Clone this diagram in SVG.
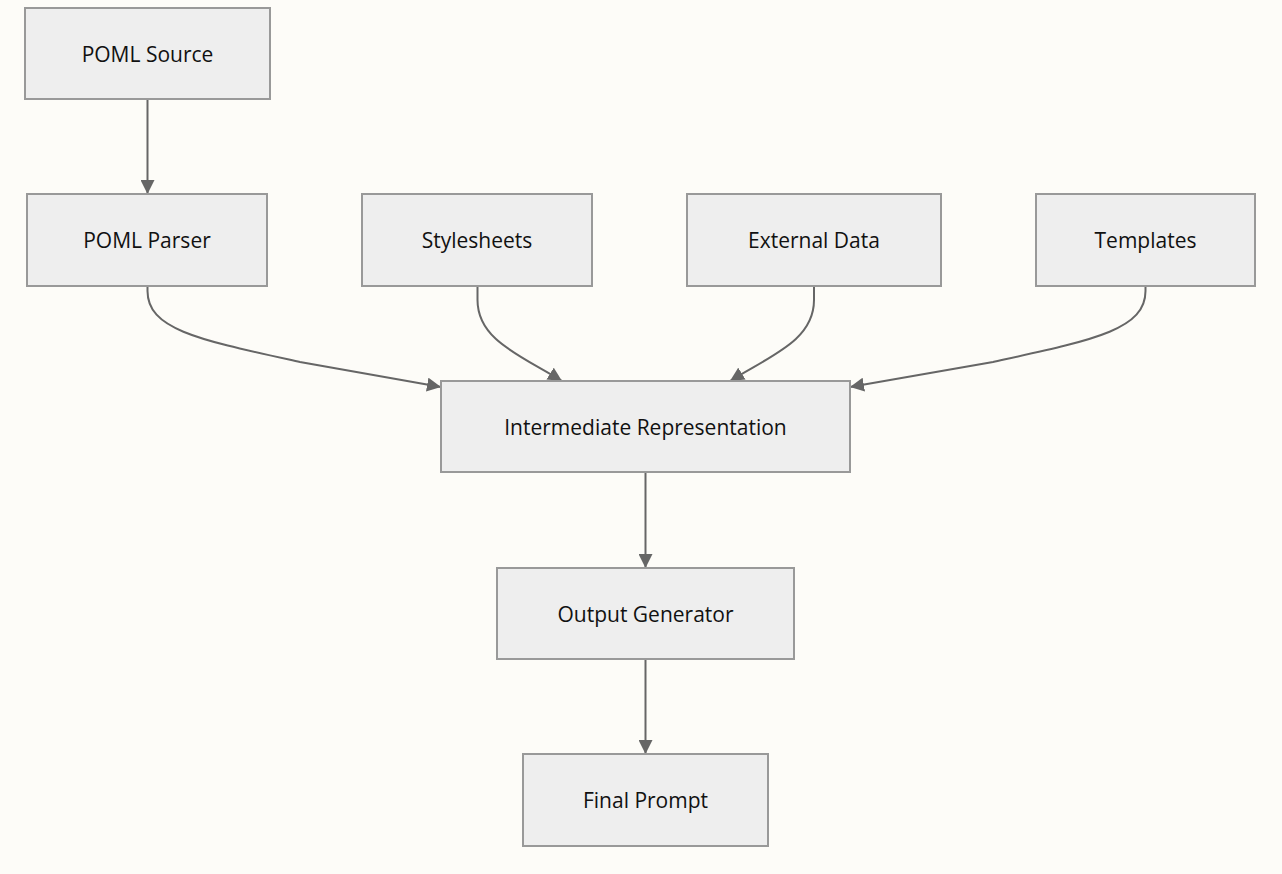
<svg xmlns="http://www.w3.org/2000/svg" width="1282" height="874" viewBox="0 0 1282 874">
<defs>
<style>
.node rect{fill:#eeeeee;stroke:#999999;stroke-width:2}
.node text{font-family:"Open Sans","DejaVu Sans",sans-serif;font-size:21px;fill:#111111;text-anchor:middle;dominant-baseline:central}
.edge{fill:none;stroke:#666666;stroke-width:2}
</style>
<marker id="arr" markerUnits="userSpaceOnUse" viewBox="0 0 12 12" refX="12" refY="6" markerWidth="14" markerHeight="14" orient="auto">
<path d="M0,0 L12,6 L0,12 z" fill="#666666"/>
</marker>
</defs>
<rect width="1282" height="874" fill="#fdfcf8"/>
<g id="connectors">
<path class="edge" d="M147.5,99 L147.5,194" marker-end="url(#arr)"/>
<path class="edge" d="M147.5,286 L147.5,291 C147.5,330 200,340 300,362 L441,387" marker-end="url(#arr)"/>
<path class="edge" d="M477.5,286 L477.5,300 C477.5,340 520,355 562,381" marker-end="url(#arr)"/>
<path class="edge" d="M814,286 L814,300 C814,340 772,355 730,381" marker-end="url(#arr)"/>
<path class="edge" d="M1145.5,286 L1145.5,291 C1145.5,330 1093,340 993,362 L850,387" marker-end="url(#arr)"/>
<path class="edge" d="M645.5,472 L645.5,568" marker-end="url(#arr)"/>
<path class="edge" d="M645.5,659 L645.5,754" marker-end="url(#arr)"/>
</g>
<g id="n-source" class="node"><rect x="25" y="8" width="245" height="91"/><text x="147.5" y="53.5">POML Source</text></g>
<g id="n-parser" class="node"><rect x="27" y="194" width="240" height="92"/><text x="147" y="240">POML Parser</text></g>
<g id="n-styles" class="node"><rect x="362" y="194" width="230" height="92"/><text x="477" y="240">Stylesheets</text></g>
<g id="n-data" class="node"><rect x="687" y="194" width="254" height="92"/><text x="814" y="240">External Data</text></g>
<g id="n-templates" class="node"><rect x="1036" y="194" width="219" height="92"/><text x="1145.5" y="240">Templates</text></g>
<g id="n-ir" class="node"><rect x="441" y="381" width="409" height="91"/><text x="645.5" y="427">Intermediate Representation</text></g>
<g id="n-output" class="node"><rect x="497" y="568" width="297" height="91"/><text x="645.5" y="613.5">Output Generator</text></g>
<g id="n-final" class="node"><rect x="523" y="754" width="245" height="92"/><text x="645.5" y="800">Final Prompt</text></g>
</svg>
